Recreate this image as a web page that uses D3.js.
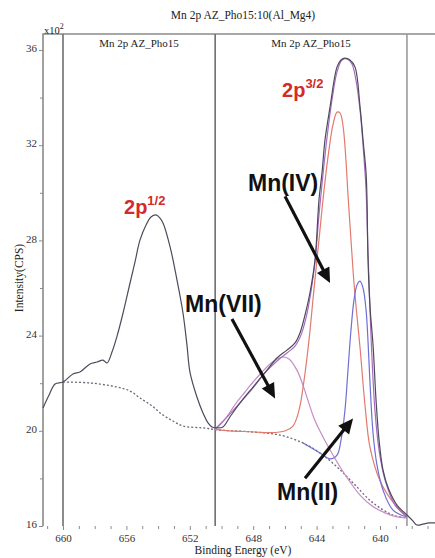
<!DOCTYPE html>
<html><head><meta charset="utf-8">
<script src="https://cdn.jsdelivr.net/npm/d3@7"></script>
<style>body{margin:0;background:#fff}svg{display:block}</style>
</head><body><svg id="c" width="435" height="558"></svg>
<script>
// ---------- data ----------
const title = "Mn 2p AZ_Pho15:10(Al_Mg4)";
const regionLabel = "Mn 2p AZ_Pho15";
const xTicks = [660, 656, 652, 648, 644, 640];
const xMinorTicks = [661, 659, 658, 657, 655, 654, 653, 651, 650, 649, 647, 646, 645, 643, 642, 641, 639, 638, 637];
const yTicks = [16, 20, 24, 28, 32, 36];
const yMinorTicks = [18, 22, 26, 30, 34];
const regionBounds = [660, 650.4, 638.3];

// raw spectrum (binding energy eV, intensity x10^2 CPS)
const envelope = [
 [661.26,20.96],[660.88,21.50],[660.50,21.97],[660.0,22.05],[659.37,22.39],[658.93,22.47],[658.30,22.81],
 [657.85,22.89],[657.48,22.97],[657.22,22.85],[656.91,23.31],[656.59,23.98],[656.21,24.95],[655.77,26.21],
 [655.46,27.09],[655.14,28.02],[654.76,28.65],[654.45,28.98],[654.13,29.07],[653.88,28.94],[653.69,28.73],
 [653.24,27.72],[652.81,26.34],[652.43,24.95],[652.18,23.61],[651.99,22.47],[651.55,21.42],[651.17,20.75],
 [650.85,20.33],[650.60,20.16],[650.28,20.12],[649.91,20.16],[649.47,20.58],[648.83,21.17],[648.01,21.84],
 [647.13,22.55],[646.50,23.06],[645.87,23.39],[645.36,23.69],[645.05,24.11],[644.73,24.87],[644.42,25.79],
 [644.10,27.18],[643.85,29.70],[643.66,30.83],[643.47,32.22],[643.15,33.61],[642.71,35.29],[642.46,35.58],
 [642.21,35.66],[641.90,35.58],[641.58,35.29],[641.26,33.61],[641.07,32.22],[640.88,30.83],[640.82,29.70],
 [640.76,27.30],[640.63,25.20],[640.44,23.61],[640.25,21.29],[640.06,19.61],[639.81,18.35],[639.43,17.51],
 [638.93,16.88],[638.30,16.46],[637.97,16.25],[637.67,16.04],[637.29,16.08],[636.91,16.13],[636.53,16.13]
];
const background = [
 [660.0,22.05],[658.30,22.01],[656.59,21.84],[655.77,21.67],[655.14,21.38],[654.38,21.04],[653.69,20.66],
 [653.06,20.41],[652.43,20.20],[651.17,20.12],[650.09,20.03],[648.01,19.95],[646.31,19.82],[644.86,19.49],
 [643.79,19.07],[642.71,18.48],[641.70,17.81],[640.44,16.97],[639.18,16.46],[638.30,16.34]
];
const fitSum = [
 [650.41,20.08],[649.59,20.62],[648.83,21.17],[648.01,21.80],[647.26,22.43],[646.50,22.93],[645.87,23.27],
 [645.36,23.56],[644.98,24.03],[644.67,24.74],[644.36,25.83],[644.10,27.09],[643.85,29.07],[643.60,30.75],
 [643.34,32.34],[643.03,33.90],[642.71,35.08],[642.40,35.58],[642.08,35.62],[641.77,35.41],[641.52,34.74],
 [641.26,33.48],[641.07,32.01],[640.88,30.12],[640.76,27.60],[640.63,25.08],[640.50,22.97],[640.32,20.87],
 [640.06,19.19],[639.68,17.93],[639.05,16.88],[638.30,16.38]
];
const mnIV = [
 [650.41,20.06],[649.50,20.00],[648.60,19.97],[647.89,19.95],[646.94,19.92],[646.00,19.99],[645.49,20.20],
 [645.11,20.87],[644.79,22.13],[644.48,23.81],[644.17,25.92],[643.85,28.02],[643.53,30.12],[643.22,31.80],
 [642.97,32.85],[642.71,33.39],[642.52,33.35],[642.34,32.85],[642.15,31.38],[642.02,29.91],[641.83,28.02],
 [641.64,26.20],[641.45,24.80],[641.26,23.50],[640.95,21.10],[640.63,19.30],[640.00,17.90],[639.18,17.00],
 [638.30,16.38]
];
const mnII = [
 [644.86,19.49],[643.79,19.07],[643.15,18.82],[642.71,18.98],[642.46,19.61],[642.21,20.87],[642.02,22.55],
 [641.83,24.24],[641.64,25.50],[641.45,26.13],[641.26,26.29],[641.07,26.00],[640.88,25.08],[640.76,23.81],
 [640.63,22.01],[640.44,19.91],[640.19,18.56],[639.81,17.51],[639.18,16.67],[638.30,16.38]
];
const mnVII = [
 [650.41,20.08],[650.09,20.24],[649.59,20.66],[649.03,21.21],[648.52,21.63],[648.01,22.05],[647.44,22.47],
 [646.94,22.81],[646.50,23.02],[646.12,23.10],[645.74,23.02],[645.24,22.55],[644.86,21.92],[644.55,21.29],
 [644.17,20.54],[643.79,19.99],[643.15,19.19],[642.52,18.48],[641.89,17.85],[641.26,17.30],[640.50,16.84],
 [639.68,16.55],[638.93,16.38],[638.30,16.34]
];

// annotations: label text at [E, I] (start anchor) and arrows [E1,I1] -> [E2,I2]
const peakLabels = [
 {main: "2p", sup: "1/2", at: [656.15, 29.10]},
 {main: "2p", sup: "3/2", at: [646.18, 34.03]}
];
const speciesLabels = [
 {text: "Mn(IV)",  at: [648.33, 30.06], from: [645.99, 29.85], to: [643.15, 26.21]},
 {text: "Mn(VII)", at: [652.30, 25.00], from: [649.34, 24.70], to: [646.62, 21.36]},
 {text: "Mn(II)",  at: [646.50, 17.09], from: [644.73, 18.01], to: [641.70, 20.52]}
];

// ---------- drawing ----------
const svg = d3.select("#c");
const L = 43, R = 435, T = 34, B = 526;
const x = d3.scaleLinear().domain([661.262, 636.530]).range([L, R]);
const y = d3.scaleLinear().domain([16, 36.672]).range([B, T]);
const serif = "'Liberation Serif', 'Times New Roman', serif";
const sans = "'Liberation Sans', Arial, sans-serif";

// frame
svg.append("path").attr("d", `M${L},${B}V${T}H${R}`).attr("fill","none")
  .attr("stroke","#8a8a8a").attr("stroke-width",1.6);

// region boundary lines
svg.selectAll(".rb").data(regionBounds).enter().append("line")
  .attr("x1", d => x(d)).attr("x2", d => x(d)).attr("y1", T).attr("y2", B)
  .attr("stroke", (d,i) => i === 2 ? "#9a9a9a" : "#6e6e6e").attr("stroke-width", 1.6);

// region labels
for (let i = 0; i < 2; i++) {
  svg.append("text").attr("x", (x(regionBounds[i]) + x(regionBounds[i+1]))/2).attr("y", 47)
    .attr("text-anchor","middle").attr("font-family", serif).attr("font-size", 11)
    .attr("fill","#222").text(regionLabel);
}

// title
svg.append("text").attr("x", 243).attr("y", 19).attr("text-anchor","middle")
  .attr("font-family", serif).attr("font-size", 11.5).attr("fill","#222").text(title);

// x10^2
const ex = svg.append("text").attr("x", 44).attr("y", 34).attr("font-family", serif)
  .attr("font-size", 10.5).attr("fill","#222");
ex.append("tspan").text("x10");
ex.append("tspan").attr("dy", -5).attr("font-size", 8).text("2");

// axes
const xAxis = svg.append("g").attr("transform", `translate(0,${B})`)
  .call(d3.axisBottom(x).tickValues(xTicks).tickSize(4).tickPadding(4).tickFormat(d3.format("d")));
const xMinor = svg.append("g").attr("transform", `translate(0,${B})`)
  .call(d3.axisBottom(x).tickValues(xMinorTicks).tickSize(3).tickFormat(""));
const yAxis = svg.append("g").attr("transform", `translate(${L},0)`)
  .call(d3.axisLeft(y).tickValues(yTicks).tickSize(4).tickPadding(2).tickFormat(d3.format("d")));
const yMinor = svg.append("g").attr("transform", `translate(${L},0)`)
  .call(d3.axisLeft(y).tickValues(yMinorTicks).tickSize(3).tickFormat(""));
[xAxis, xMinor, yAxis, yMinor].forEach(g => {
  g.select(".domain").remove();
  g.selectAll("line").attr("stroke","#8a8a8a").attr("stroke-width",1);
  g.selectAll("text").attr("font-family", serif).attr("font-size", 11).attr("fill","#333");
});
yAxis.selectAll("text").attr("dy", "0.15em");

// axis titles
svg.append("text").attr("x", 243).attr("y", 554).attr("text-anchor","middle")
  .attr("font-family", serif).attr("font-size", 11.5).attr("fill","#222").text("Binding Energy (eV)");
svg.append("text").attr("transform","translate(23,278) rotate(-90)").attr("text-anchor","middle")
  .attr("font-family", serif).attr("font-size", 11.5).attr("fill","#222").text("Intensity(CPS)");

// curves
const line = d3.line().x(d => x(d[0])).y(d => y(d[1])).curve(d3.curveCatmullRom.alpha(0.5));
function curve(data, color, w, dash) {
  const p = svg.append("path").datum(data).attr("d", line).attr("fill","none")
    .attr("stroke", color).attr("stroke-width", w).attr("stroke-linejoin","round");
  if (dash) p.attr("stroke-dasharray", dash);
  return p;
}
curve(background, "#6a6a78", 1.3, "2,2");
curve(mnVII, "#c88ac8", 1.2);
curve(mnIV, "#e27a6e", 1.2);
curve(mnII, "#6f6fd6", 1.2);
curve(fitSum, "#a66cc0", 1.2);
curve(envelope, "#4e4a5c", 1.2);

// peak labels
peakLabels.forEach(p => {
  const t = svg.append("text").attr("x", x(p.at[0])).attr("y", y(p.at[1]))
    .attr("font-family", sans).attr("font-weight","bold").attr("font-size", 20).attr("fill","#d42a2a");
  t.append("tspan").text(p.main);
  t.append("tspan").attr("dy", -9).attr("font-size", 13).text(p.sup);
});

// species labels + arrows
speciesLabels.forEach(s => {
  svg.append("text").attr("x", x(s.at[0])).attr("y", y(s.at[1]))
    .attr("font-family", sans).attr("font-weight","bold").attr("font-size", 23).attr("fill","#111").text(s.text);
  const x1 = x(s.from[0]), y1 = y(s.from[1]), x2 = x(s.to[0]), y2 = y(s.to[1]);
  const dx = x2 - x1, dy = y2 - y1, len = Math.hypot(dx, dy), ux = dx/len, uy = dy/len;
  const hl = 15, hw = 7;
  const bx = x2 - ux*hl, by = y2 - uy*hl;
  svg.append("line").attr("x1", x1).attr("y1", y1).attr("x2", bx + ux*2).attr("y2", by + uy*2)
    .attr("stroke","#111").attr("stroke-width", 3.2);
  svg.append("path").attr("d", `M${x2},${y2}L${bx - uy*hw},${by + ux*hw}L${bx + uy*hw},${by - ux*hw}Z`)
    .attr("fill","#111");
});
</script></body></html>
